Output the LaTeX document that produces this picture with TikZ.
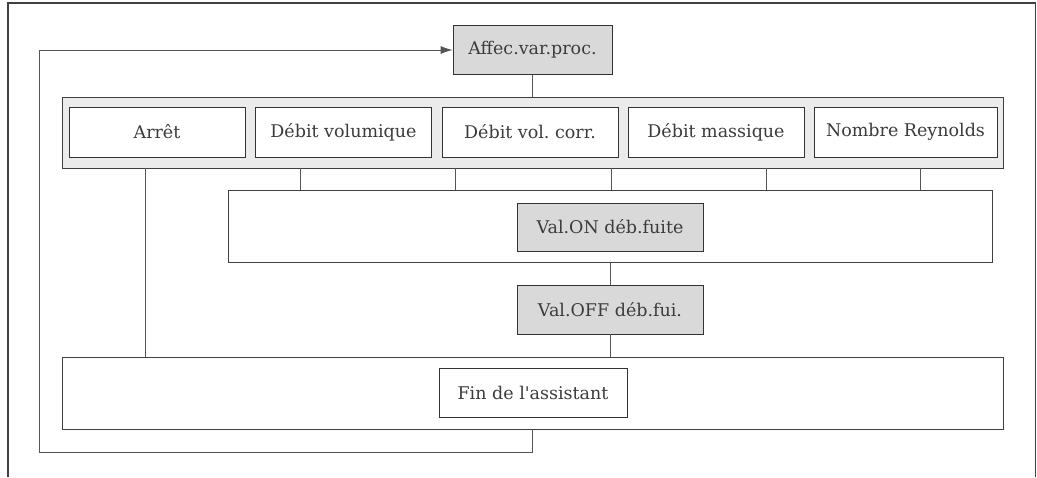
\documentclass[tikz,border=0pt]{standalone}
\usepackage{fontspec}
\setmainfont{DejaVu Serif}
\usetikzlibrary{arrows.meta}
\definecolor{txtgray}{HTML}{3C3C3C}
\definecolor{linegray}{HTML}{555555}
\definecolor{boxgray}{HTML}{D9D9D9}
\definecolor{grpgray}{HTML}{EBEBEB}
\frenchspacing

\begin{document}
\begin{tikzpicture}[x=1pt,y=-1pt,>={Latex[length=12pt,width=8pt]},
  font=\fontsize{17.5}{20}\selectfont,
  box/.style={draw=black!80,line width=0.8pt,text=txtgray,inner sep=0pt,
    minimum width=176pt,minimum height=50pt},
  param/.style={box,fill=boxgray},
  frame/.style={draw=black!75,line width=0.8pt,inner sep=0pt},
  link/.style={draw=linegray,line width=0.8pt}]
\useasboundingbox (0,0) rectangle (1037,477);
\draw[black!75,line width=1.4pt] (8,477) -- (8,3) -- (1035.5,3) -- (1035.5,477);

\node[param,minimum width=159pt,minimum height=49pt] (affec) at (532.5,50) {Affec.var.proc.};

\node[frame,fill=grpgray,minimum width=941pt,minimum height=71pt] (group) at (532.5,132.5) {};
\node[box,fill=white] (arret) at (157,132) {Arrêt};
\node[box,fill=white] (volum) at (343.5,132) {Débit volumique};
\node[box,fill=white] (corr) at (530,132) {Débit vol. corr.};
\node[box,fill=white] (massq) at (716,132) {Débit massique};
\node[box,fill=white,minimum width=183pt] (reyn) at (905.5,132) {Nombre Reynolds};

\node[frame,minimum width=764pt,minimum height=72pt] (onframe) at (610,226) {};
\node[param,minimum width=186pt,minimum height=48pt] (valon) at (610,227) {Val.ON déb.fuite};
\node[param,minimum width=186pt,minimum height=49pt] (valoff) at (610,309.5) {Val.OFF déb.fui.};

\node[frame,minimum width=941pt,minimum height=72pt] (finframe) at (532.5,393) {};
\node[box,fill=white,minimum width=188pt,minimum height=49pt] (fin) at (533,392.5) {Fin de l\textquotesingle assistant};

\coordinate (loop) at (39.5,452);

\draw[link] (affec.south) -- (group.north);
\foreach \x in {300,455,611,766,920}
  \draw[link] (group.south -| \x,0) -- (onframe.north -| \x,0);
\draw[link] (group.south -| 145,0) -- (finframe.north -| 145,0);
\draw[link] (onframe.south) -- (valoff.north);
\draw[link] (valoff.south) -- (finframe.north -| valoff.south);
\draw[link,->] (finframe.south) |- (loop) |- (affec.west);
\end{tikzpicture}
\end{document}
